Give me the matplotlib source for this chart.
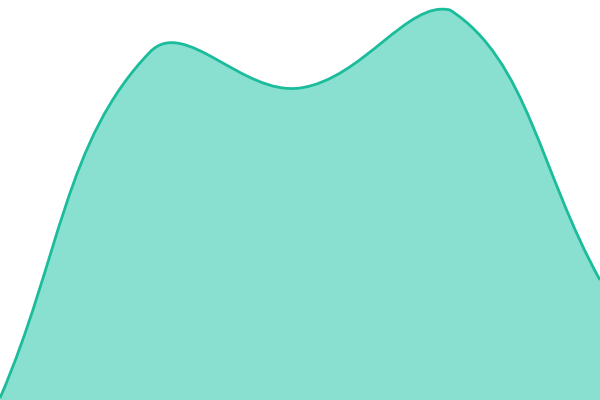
import numpy as np
import matplotlib
matplotlib.use("Agg")
import matplotlib.pyplot as plt
from matplotlib.path import Path
from matplotlib.patches import PathPatch

# data (y in 0..100 of plot height)
labels = ["A", "B", "C", "D", "E"]
values = [0.5, 87, 78, 97.5, 30]

line_color = "#1abc9c"
fill_color = "#89e0d0"
tension = 0.4


def spline_controls(xs, ys, t):
    # chart.js style bezier control points
    n = len(xs)
    ctrl = []
    for i in range(n):
        p0 = (xs[max(i - 1, 0)], ys[max(i - 1, 0)])
        p1 = (xs[i], ys[i])
        p2 = (xs[min(i + 1, n - 1)], ys[min(i + 1, n - 1)])
        d01 = np.hypot(p1[0] - p0[0], p1[1] - p0[1])
        d12 = np.hypot(p2[0] - p1[0], p2[1] - p1[1])
        s = d01 + d12
        fa = t * d01 / s if s else 0
        fb = t * d12 / s if s else 0
        prev = (p1[0] - fa * (p2[0] - p0[0]), p1[1] - fa * (p2[1] - p0[1]))
        nxt = (p1[0] + fb * (p2[0] - p0[0]), p1[1] + fb * (p2[1] - p0[1]))
        ctrl.append((prev, nxt))
    return ctrl


fig = plt.figure(figsize=(6, 4), dpi=100)
ax = fig.add_axes([0, 0, 1, 1])
ax.set_xlim(0, 600)
ax.set_ylim(0, 100)
ax.axis("off")

# work in pixel-like units so the curve shape matches screen distances
xs = np.linspace(0, 600, len(values))
ys = np.array(values) * 4.0
ctrl = spline_controls(xs, ys, tension)

verts = [(xs[0], ys[0])]
codes = [Path.MOVETO]
for i in range(len(xs) - 1):
    c1 = ctrl[i][1]
    c2 = ctrl[i + 1][0]
    c1 = (c1[0], min(max(c1[1], 0), 400))
    c2 = (c2[0], min(max(c2[1], 0), 400))
    verts += [c1, c2, (xs[i + 1], ys[i + 1])]
    codes += [Path.CURVE4] * 3

scale = lambda v: [(x, y / 4.0) for x, y in v]
line_path = Path(scale(verts), codes)
fill_path = Path(scale(verts) + [(600, 0), (0, 0), (0, 0)],
                 codes + [Path.LINETO, Path.LINETO, Path.CLOSEPOLY])

ax.add_patch(PathPatch(fill_path, facecolor=fill_color, edgecolor="none"))
ax.add_patch(PathPatch(line_path, facecolor="none", edgecolor=line_color, lw=2.0))

fig.savefig("out.png", dpi=100)
